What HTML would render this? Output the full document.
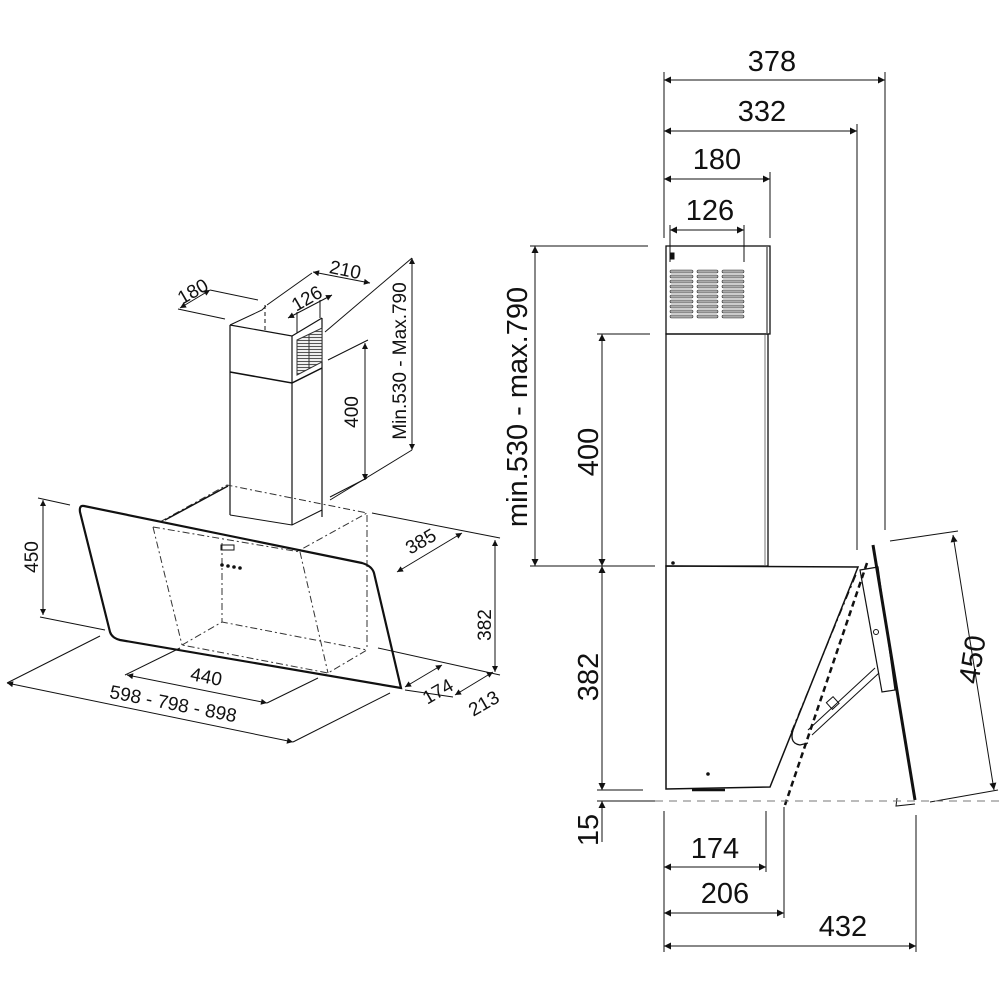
<!DOCTYPE html>
<html><head><meta charset="utf-8"><style>
html,body{margin:0;padding:0;background:#fff;}
svg{display:block;}
text{font-family:"Liberation Sans",Arial,sans-serif;fill:#111;}
</style></head><body>
<svg width="1000" height="1000" viewBox="0 0 1000 1000" xmlns="http://www.w3.org/2000/svg">
<defs>
<marker id="a" viewBox="0 0 10 10" refX="10" refY="5" markerWidth="14" markerHeight="7" markerUnits="userSpaceOnUse" orient="auto-start-reverse"><path d="M0,0 L10,5 L0,10 z" fill="#111"/></marker>
<marker id="b" viewBox="0 0 10 10" refX="10" refY="5" markerWidth="11" markerHeight="6" markerUnits="userSpaceOnUse" orient="auto-start-reverse"><path d="M0,0 L10,5 L0,10 z" fill="#111"/></marker>
<marker id="s" viewBox="0 0 10 10" refX="10" refY="5" markerWidth="10" markerHeight="5" markerUnits="userSpaceOnUse" orient="auto-start-reverse"><path d="M0,0 L10,5 L0,10 z" fill="#111"/></marker>
<pattern id="v" width="4" height="3" patternUnits="userSpaceOnUse"><rect width="4" height="3" fill="#fff"/><line x1="0" y1="1.5" x2="4" y2="1.5" stroke="#555" stroke-width="1.2"/></pattern>
</defs>
<g stroke="#111" fill="none" stroke-width="1">
<!-- ===== RIGHT VIEW ===== -->
<line x1="664" y1="72" x2="664" y2="238"/>
<line x1="885" y1="72" x2="885" y2="530"/>
<line x1="857" y1="124" x2="857" y2="550"/>
<line x1="770" y1="172" x2="770" y2="238"/>
<line x1="670" y1="225" x2="670" y2="262"/>
<line x1="744" y1="225" x2="744" y2="262"/>
<line x1="664" y1="80" x2="885" y2="80" marker-start="url(#a)" marker-end="url(#a)"/>
<line x1="664" y1="131" x2="857" y2="131" marker-start="url(#a)" marker-end="url(#a)"/>
<line x1="664" y1="179" x2="770" y2="179" marker-start="url(#a)" marker-end="url(#a)"/>
<line x1="670" y1="230" x2="744" y2="230" marker-start="url(#a)" marker-end="url(#a)"/>
<rect x="666" y="246" width="104" height="88" stroke-width="1.3"/>
<line x1="767" y1="247" x2="767" y2="333" stroke="#888" stroke-width="2"/>
<rect x="666" y="334" width="102" height="232" stroke-width="1.3"/>
<line x1="765" y1="335" x2="765" y2="565" stroke="#777"/>
<rect x="671" y="253" width="3" height="6" fill="#111"/>
<g fill="#aaa" stroke="#333" stroke-width="0.6">
<rect x="670" y="270" width="23" height="3" rx="1.5"/><rect x="697" y="270" width="21" height="3" rx="1.5"/><rect x="722" y="270" width="22" height="3" rx="1.5"/>
<rect x="670" y="275" width="23" height="3" rx="1.5"/><rect x="697" y="275" width="21" height="3" rx="1.5"/><rect x="722" y="275" width="22" height="3" rx="1.5"/>
<rect x="670" y="280" width="23" height="3" rx="1.5"/><rect x="697" y="280" width="21" height="3" rx="1.5"/><rect x="722" y="280" width="22" height="3" rx="1.5"/>
<rect x="670" y="285" width="23" height="3" rx="1.5"/><rect x="697" y="285" width="21" height="3" rx="1.5"/><rect x="722" y="285" width="22" height="3" rx="1.5"/>
<rect x="670" y="290" width="23" height="3" rx="1.5"/><rect x="697" y="290" width="21" height="3" rx="1.5"/><rect x="722" y="290" width="22" height="3" rx="1.5"/>
<rect x="670" y="295" width="23" height="3" rx="1.5"/><rect x="697" y="295" width="21" height="3" rx="1.5"/><rect x="722" y="295" width="22" height="3" rx="1.5"/>
<rect x="670" y="300" width="23" height="3" rx="1.5"/><rect x="697" y="300" width="21" height="3" rx="1.5"/><rect x="722" y="300" width="22" height="3" rx="1.5"/>
<rect x="670" y="305" width="23" height="3" rx="1.5"/><rect x="697" y="305" width="21" height="3" rx="1.5"/><rect x="722" y="305" width="22" height="3" rx="1.5"/>
<rect x="670" y="310" width="23" height="3" rx="1.5"/><rect x="697" y="310" width="21" height="3" rx="1.5"/><rect x="722" y="310" width="22" height="3" rx="1.5"/>
<rect x="670" y="315" width="23" height="3" rx="1.5"/><rect x="697" y="315" width="21" height="3" rx="1.5"/><rect x="722" y="315" width="22" height="3" rx="1.5"/>
</g>
<path d="M666,566 L858,567 L770,787 L666,789 Z" stroke-width="1.5"/>
<line x1="692" y1="790" x2="725" y2="790" stroke-width="2.5"/>
<circle cx="673" cy="563" r="1.3" fill="#111"/>
<circle cx="708" cy="774" r="1.3" fill="#111"/>
<line x1="856" y1="575" x2="790" y2="735" stroke-dasharray="8,4,2,4"/>
<line x1="867" y1="563" x2="785" y2="805" stroke-width="2.5" stroke-dasharray="6,4"/>
<path d="M860,570 L878,567 L895,690 L882,692 Z" stroke-width="1.2"/>
<line x1="875" y1="668" x2="808" y2="730"/>
<line x1="879" y1="673" x2="812" y2="735"/>
<rect x="828" y="699" width="9" height="9" transform="rotate(-42 832 703)"/>
<path d="M795,725 q-8,18 5,20 l8,-2" stroke-width="1.3"/>
<circle cx="876" cy="632" r="2.5"/>
<line x1="873" y1="545" x2="915" y2="800" stroke-width="3"/>
<path d="M897,798 L896,806 L915,804"/>
<line x1="890" y1="541" x2="958" y2="531"/>
<line x1="930" y1="802" x2="998" y2="790"/>
<line x1="953" y1="535" x2="994" y2="790" marker-start="url(#a)" marker-end="url(#a)"/>
<line x1="655" y1="801" x2="1000" y2="801" stroke="#777" stroke-dasharray="8,6"/>
<line x1="530" y1="246" x2="648" y2="246"/>
<line x1="530" y1="566" x2="655" y2="566"/>
<line x1="597" y1="334" x2="650" y2="334"/>
<line x1="535" y1="246" x2="535" y2="566" marker-start="url(#a)" marker-end="url(#a)"/>
<line x1="602" y1="334" x2="602" y2="566" marker-start="url(#a)" marker-end="url(#a)"/>
<line x1="602" y1="566" x2="602" y2="790" marker-start="url(#a)" marker-end="url(#a)"/>
<line x1="597" y1="790" x2="643" y2="790"/>
<line x1="597" y1="801" x2="655" y2="801"/>
<line x1="602" y1="770" x2="602" y2="790" marker-end="url(#s)"/>
<line x1="602" y1="842" x2="602" y2="801" marker-end="url(#a)"/>
<line x1="664" y1="811" x2="664" y2="952"/>
<line x1="766" y1="811" x2="766" y2="872"/>
<line x1="784" y1="807" x2="784" y2="918"/>
<line x1="916" y1="815" x2="916" y2="952"/>
<line x1="664" y1="867" x2="766" y2="867" marker-start="url(#a)" marker-end="url(#a)"/>
<line x1="664" y1="913" x2="784" y2="913" marker-start="url(#a)" marker-end="url(#a)"/>
<line x1="664" y1="946" x2="916" y2="946" marker-start="url(#a)" marker-end="url(#a)"/>

<!-- ===== LEFT ISOMETRIC ===== -->
<path d="M230,325 L292,336 L322,318" stroke-width="1.2"/>
<path d="M230,325 L262,310 L266,306"/>
<line x1="265" y1="305" x2="265" y2="330" stroke-dasharray="4,3"/>
<line x1="230" y1="325" x2="230" y2="515" stroke-width="1.2"/>
<line x1="292" y1="336" x2="292" y2="525" stroke-width="1.2"/>
<line x1="322" y1="318" x2="322" y2="517" stroke-width="1.2"/>
<path d="M230,372 L292,383 L322,368" stroke-width="1.5"/>
<path d="M297,340 L322,328 L322,362 L297,375 Z" fill="url(#v)" stroke="#333"/>
<line x1="309" y1="334" x2="309" y2="369" stroke="#333"/>
<path d="M230,515 L292,525 L322,510"/>
<g stroke-dasharray="7,3,2,3" stroke="#333">
<path d="M160,522 L227,485 L367,513 L300,550"/>
<line x1="153" y1="527" x2="182" y2="645"/>
<line x1="222" y1="543" x2="222" y2="622"/>
<line x1="300" y1="552" x2="328" y2="673"/>
<line x1="367" y1="515" x2="367" y2="650"/>
<path d="M182,645 L222,622 L367,650 L328,673 Z"/>
<line x1="153" y1="527" x2="300" y2="552"/>
</g>
<path d="M165,520 L228,486" stroke-width="1.5"/>
<rect x="221" y="545" width="13" height="5"/>
<circle cx="222" cy="565" r="1.3" fill="#111"/><circle cx="228" cy="566" r="1.3" fill="#111"/><circle cx="234" cy="567" r="1.3" fill="#111"/><circle cx="240" cy="568" r="1.3" fill="#111"/>
<path d="M84,506 L362,563 Q372,566 374,573 L401,688 L120,640 Q112,638 110,632 L80,512 Q79,505 84,506 Z" stroke-width="2.2"/>
<line x1="180" y1="308" x2="210" y2="290" marker-start="url(#b)" marker-end="url(#b)"/>
<line x1="178" y1="309" x2="225" y2="319"/>
<line x1="210" y1="290" x2="258" y2="300"/>
<line x1="267" y1="305" x2="312" y2="273"/>
<line x1="325" y1="332" x2="412" y2="258"/>
<line x1="313" y1="272" x2="370" y2="283" marker-start="url(#b)" marker-end="url(#b)"/>
<line x1="288" y1="318" x2="332" y2="295" marker-start="url(#b)" marker-end="url(#b)"/>
<line x1="297" y1="312" x2="297" y2="333"/>
<line x1="320" y1="300" x2="320" y2="318"/>
<line x1="412" y1="258" x2="412" y2="450" marker-start="url(#b)" marker-end="url(#b)"/>
<line x1="330" y1="500" x2="412" y2="450"/>
<line x1="328" y1="360" x2="368" y2="340"/>
<line x1="365" y1="343" x2="365" y2="480" marker-start="url(#b)" marker-end="url(#b)"/>
<line x1="330" y1="497" x2="367" y2="478"/>
<line x1="38" y1="498" x2="70" y2="505"/>
<line x1="40" y1="617" x2="105" y2="630"/>
<line x1="43" y1="500" x2="43" y2="615" marker-start="url(#b)" marker-end="url(#b)"/>
<line x1="372" y1="513" x2="500" y2="538"/>
<line x1="378" y1="648" x2="500" y2="675"/>
<line x1="495" y1="540" x2="495" y2="672" marker-start="url(#b)" marker-end="url(#b)"/>
<line x1="462" y1="533" x2="397" y2="572" marker-start="url(#b)" marker-end="url(#b)"/>
<line x1="442" y1="665" x2="405" y2="687" marker-start="url(#b)" marker-end="url(#b)"/>
<line x1="405" y1="690" x2="453" y2="697"/>
<line x1="493" y1="672" x2="455" y2="695" marker-start="url(#b)" marker-end="url(#b)"/>
<line x1="127" y1="675" x2="267" y2="703" marker-start="url(#b)" marker-end="url(#b)"/>
<line x1="125" y1="675" x2="180" y2="648"/>
<line x1="267" y1="703" x2="318" y2="678"/>
<line x1="7" y1="683" x2="293" y2="742" marker-start="url(#b)" marker-end="url(#b)"/>
<line x1="7" y1="683" x2="100" y2="636"/>
<line x1="293" y1="742" x2="390" y2="693"/>
</g>
<g font-size="29" text-anchor="middle">
<text x="772" y="71">378</text>
<text x="762" y="121">332</text>
<text x="717" y="169">180</text>
<text x="710" y="220">126</text>
<text x="715" y="858">174</text>
<text x="725" y="903">206</text>
<text x="843" y="936">432</text>
<text transform="translate(527,407) rotate(-90)">min.530 - max.790</text>
<text transform="translate(598,452) rotate(-90)">400</text>
<text transform="translate(598,677) rotate(-90)">382</text>
<text transform="translate(598,830) rotate(-90)">15</text>
<text transform="translate(982,661) rotate(-81)">450</text>
</g>
<g font-size="19" text-anchor="middle">
<text transform="translate(196,297) rotate(-30)">180</text>
<text transform="translate(344,276) rotate(12)">210</text>
<text transform="translate(310,304) rotate(-30)">126</text>
<text transform="translate(406,361) rotate(-90)">Min.530 - Max.790</text>
<text transform="translate(358,412) rotate(-90)">400</text>
<text transform="translate(38,557) rotate(-90)">450</text>
<text transform="translate(491,625) rotate(-90)">382</text>
<text transform="translate(424,547) rotate(-30)">385</text>
<text transform="translate(441,697) rotate(-30)">174</text>
<text transform="translate(487,709) rotate(-30)">213</text>
<text transform="translate(205,683) rotate(11)">440</text>
<text transform="translate(172,710) rotate(11)">598 - 798 - 898</text>
</g>
</svg>
</body></html>
